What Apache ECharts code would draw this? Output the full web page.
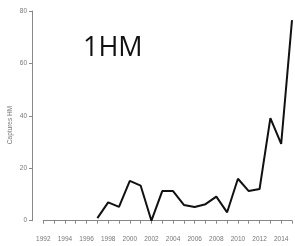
<!DOCTYPE html>
<html>
<head>
<meta charset="utf-8">
<script src="https://cdn.jsdelivr.net/npm/echarts@6/dist/echarts.min.js"></script>
<style>html,body{margin:0;padding:0;background:#fff;}#c{width:295px;height:246px;}</style>
</head>
<body>
<div id="c"></div>
<script>
var years = [1997,1998,1999,2000,2001,2002,2003,2004,2005,2006,2007,2008,2009,2010,2011,2012,2013,2014,2015];
var captures = [1,7,5.3,15.2,13.4,0,11.3,11.3,6,5.2,6.3,9.2,3.2,16,11.3,12.1,39.1,29.3,76.5];
var yTicks = [0,20,40,60,80];
var xLabelYears = [1992,1994,1996,1998,2000,2002,2004,2006,2008,2010,2012,2014];
var yTitle = 'Captures HM';
var panelTitle = '1HM';

var chart = echarts.init(document.getElementById('c'), null, {renderer:'canvas'});
var data = years.map(function(y,i){return [y, captures[i]];});
chart.setOption({
  animation:false,
  backgroundColor:'#fff',
  grid:{left:43.3, right:1, top:11, bottom:25.3, containLabel:false},
  xAxis:{type:'value', min:1992, max:2015, interval:1, offset:8.6,
    axisLine:{show:true, lineStyle:{color:'#888', width:1}},
    axisTick:{show:true, length:3, lineStyle:{color:'#888'}},
    splitLine:{show:false},
    axisLabel:{show:true, color:'#777', fontSize:6.5, fontFamily:'Liberation Sans', margin:6.5,
      formatter:function(v){return xLabelYears.indexOf(v)>=0 ? String(v) : '';},
      showMinLabel:true, showMaxLabel:true, hideOverlap:false}},
  yAxis:{type:'value', min:yTicks[0], max:yTicks[yTicks.length-1], interval:20, offset:11.3,
    axisLine:{show:true, lineStyle:{color:'#888', width:1}},
    axisTick:{show:true, length:3, lineStyle:{color:'#888'}},
    splitLine:{show:false},
    axisLabel:{show:true, color:'#777', fontSize:6.5, fontFamily:'Liberation Sans', margin:5}},
  graphic:[
    {type:'text', x:10, y:125, rotation:Math.PI/2,
      style:{text:yTitle, fill:'#777', fontSize:6.5, fontFamily:'Liberation Sans', align:'center', verticalAlign:'middle'}},
    {type:'text', x:83, y:48.5,
      style:{text:panelTitle, fill:'#111', fontSize:27, fontFamily:'Open Sans', align:'left', verticalAlign:'middle'}}
  ],
  series:[{type:'line', data:data, showSymbol:false, symbol:'none',
    lineStyle:{color:'#111', width:2}, itemStyle:{color:'#111'}}]
});
</script>
</body>
</html>
